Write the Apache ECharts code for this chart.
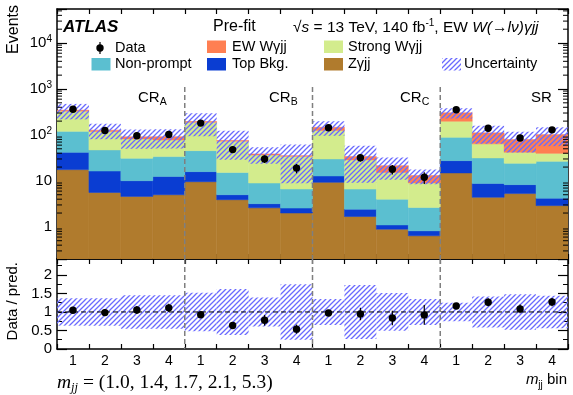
<!DOCTYPE html>
<html>
<head>
<meta charset="utf-8">
<script src="https://cdn.jsdelivr.net/npm/echarts@6/dist/echarts.min.js"></script>
<style>
  html, body { margin: 0; padding: 0; background: #fff; }
  #chart { width: 573px; height: 395px; }
</style>
</head>
<body>
<div id="chart"></div>
<script>
// bins: 4 m_jj bins in each of CR_A, CR_B, CR_C, SR
const binLabels = ['1', '2', '3', '4', '1', '2', '3', '4', '1', '2', '3', '4', '1', '2', '3', '4'];
const regionEdges = [4, 8, 12];

// pre-fit yields per bin (stacked bottom -> top)
const zgjj       = [17.6, 5.6, 4.6, 5.0, 9.6, 3.9, 2.6, 2.0, 9.3, 1.68, 0.89, 0.64, 14.9, 4.4, 5.3, 2.9];
const topBkg     = [24.3, 10.8, 5.5, 7.5, 6.3, 1.1, 0.6, 0.56, 3.5, 0.75, 0.21, 0.18, 12.7, 4.4, 3.0, 1.3];
const nonPrompt  = [78, 30.8, 20.9, 21.3, 29.7, 10.3, 5.8, 4.1, 17.2, 4.2, 2.9, 1.82, 61, 22.8, 15.8, 22.5];
const strongWgjj = [209, 72, 51, 44, 143, 58, 27.8, 27.6, 95, 22, 11.3, 6.4, 110, 32.4, 17.8, 13.1];
const ewWgjj     = [17, 8, 9, 14, 7, 2.5, 1.9, 1.2, 22, 5.2, 6.2, 4.0, 105, 47, 37.5, 62];

const dataCounts = [362, 125, 96, 102, 181, 48, 30, 19, 143, 32, 18, 12, 353, 140, 86, 129];
// relative uncertainty of the prediction
const relUnc = [0.37, 0.37, 0.45, 0.45, 0.52, 0.62, 0.39, 0.75, 0.35, 0.73, 0.51, 0.35, 0.25, 0.42, 0.48, 0.44];

const yMin = 0.2, yMax = 55000;
const rMin = 0, rMax = 2.43;

const SANS = '"Liberation Sans", Arial, Helvetica, sans-serif';
const SERIF = '"Liberation Serif", "Times New Roman", serif';

const layers = [
  { name: 'Zγjj', values: zgjj, color: '#b07b2d' },
  { name: 'Top Bkg.', values: topBkg, color: '#0a3dd2' },
  { name: 'Non-prompt', values: nonPrompt, color: '#5bbfd0' },
  { name: 'Strong Wγjj', values: strongWgjj, color: '#d3ec8d' },
  { name: 'EW Wγjj', values: ewWgjj, color: '#ff7f52' }
];

function hatchCanvas() {
  const c = document.createElement('canvas');
  c.width = 5; c.height = 5;
  const g = c.getContext('2d');
  g.strokeStyle = '#6a6aff';
  g.lineWidth = 1.3;
  g.beginPath();
  g.moveTo(-1, 6); g.lineTo(6, -1);
  g.moveTo(-1, 1); g.lineTo(1, -1);
  g.moveTo(4, 6); g.lineTo(6, 4);
  g.stroke();
  return c;
}
const hatch = { image: hatchCanvas(), repeat: 'repeat' };

// cumulative stack
const cum = binLabels.map(() => 0);
const stackData = layers.map(layer => layer.values.map((v, i) => {
  const lo = cum[i];
  cum[i] += v;
  return [i, lo === 0 ? yMin : lo, cum[i]];
}));
const totals = cum.slice();

function blockItem(params, api) {
  const i = api.value(0);
  const lo = api.coord([i, api.value(1)]);
  const hi = api.coord([i, api.value(2)]);
  const w = api.size([1, 0])[0];
  const color = api.visual('color');
  return {
    type: 'rect',
    shape: { x: lo[0] - w / 2, y: hi[1], width: w, height: lo[1] - hi[1] },
    style: { fill: color, stroke: color, lineWidth: 0.5 }
  };
}

function bandItem(params, api) {
  const i = api.value(0);
  const lo = api.coord([i, api.value(1)]);
  const hi = api.coord([i, api.value(2)]);
  const w = api.size([1, 0])[0];
  return {
    type: 'rect',
    shape: { x: lo[0] - w / 2, y: hi[1], width: w, height: lo[1] - hi[1] },
    style: { fill: hatch }
  };
}

function pointItem(params, api) {
  const i = api.value(0), v = api.value(1), e = api.value(2);
  const c = api.coord([i, v]);
  const top = api.coord([i, v + e]);
  const bot = api.coord([i, Math.max(v - e, 1e-3)]);
  return {
    type: 'group',
    children: [
      { type: 'line', shape: { x1: c[0], y1: top[1], x2: c[0], y2: bot[1] }, style: { stroke: '#000', lineWidth: 1.2 } },
      { type: 'circle', shape: { cx: c[0], cy: c[1], r: 3.7 }, style: { fill: '#000' } }
    ]
  };
}

function minorTickItem(params, api) {
  const y = api.coord([0, api.value(1)])[1];
  const cs = params.coordSys;
  const st = { stroke: '#000', lineWidth: 1 };
  return {
    type: 'group',
    children: [
      { type: 'line', shape: { x1: cs.x, y1: y, x2: cs.x + 5, y2: y }, style: st },
      { type: 'line', shape: { x1: cs.x + cs.width - 5, y1: y, x2: cs.x + cs.width, y2: y }, style: st }
    ]
  };
}

function edgeItemUpper(params, api) {
  const e = api.value(0);
  const w = api.size([1, 0])[0];
  const top = api.coord([e, 1100]);
  const bot = api.coord([e, yMin]);
  const x = top[0] - w / 2;
  return { type: 'line', shape: { x1: x, y1: top[1], x2: x, y2: bot[1] },
    style: { stroke: '#7f7f7f', lineWidth: 1.5, lineDash: [5, 3] } };
}

function edgeItemLower(params, api) {
  const e = api.value(0);
  const w = api.size([1, 0])[0];
  const bot = api.coord([e, rMin]);
  const x = bot[0] - w / 2;
  return { type: 'line', shape: { x1: x, y1: params.coordSys.y, x2: x, y2: bot[1] },
    style: { stroke: '#7f7f7f', lineWidth: 1.5, lineDash: [5, 3] } };
}

function unityItem(params, api) {
  const y = api.coord([0, api.value(1)])[1];
  const cs = params.coordSys;
  return { type: 'line', shape: { x1: cs.x, y1: y, x2: cs.x + cs.width, y2: y },
    style: { stroke: '#000', lineWidth: 1, lineDash: [5, 3] } };
}

// minor log ticks (2..9 x 10^k)
const minorTicks = [];
for (let k = -1; k <= 4; k++) {
  for (let m = 2; m <= 9; m++) {
    const v = m * Math.pow(10, k);
    if (v > yMin && v < yMax) minorTicks.push([0, v]);
  }
}

const bandUpper = totals.map((t, i) => [i, t * (1 - relUnc[i]), t * (1 + relUnc[i])]);
const bandLower = relUnc.map((u, i) => [i, 1 - u, 1 + u]);
const pointsUpper = dataCounts.map((n, i) => [i, n, Math.sqrt(n)]);
const pointsLower = dataCounts.map((n, i) => [i, n / totals[i], Math.sqrt(n) / totals[i]]);

function catAxis(gridIndex, position, showLabel) {
  return {
    type: 'category', gridIndex, position, data: binLabels, boundaryGap: true,
    axisLine: { show: true, onZero: false, lineStyle: { color: '#000', width: 1.5 } },
    axisTick: { show: true, inside: true, length: 5, interval: 0, lineStyle: { color: '#000', width: 1.2 } },
    axisLabel: { show: showLabel, interval: 0, color: '#000', fontSize: 14, fontFamily: SANS, margin: 5 },
    splitLine: { show: false }
  };
}

function logLabel(v) {
  const e = Math.log10(v);
  const r = Math.round(e);
  if (Math.abs(e - r) > 1e-6) return '';
  if (r === 0) return '{b|1}';
  if (r === 1) return '{b|10}';
  return '{b|10}{s|' + r + '}';
}

const labelRich = {
  b: { fontSize: 15, lineHeight: 18, fontFamily: SANS, color: '#000' },
  s: { fontSize: 10, lineHeight: 10, verticalAlign: 'top', fontFamily: SANS, color: '#000' }
};

function logAxis(position, showLabel) {
  return {
    type: 'log', logBase: 10, gridIndex: 0, position, min: yMin, max: yMax,
    axisLine: { show: true, onZero: false, lineStyle: { color: '#000', width: 1.5 } },
    axisTick: { show: true, inside: true, length: 10, lineStyle: { color: '#000', width: 1.2 } },
    axisLabel: { show: showLabel, formatter: logLabel, rich: labelRich, margin: 5 },
    splitLine: { show: false }
  };
}

function ratioAxis(position, showLabel) {
  return {
    type: 'value', gridIndex: 1, position, min: rMin, max: rMax, interval: 0.5,
    axisLine: { show: true, onZero: false, lineStyle: { color: '#000', width: 1.5 } },
    axisTick: { show: true, inside: true, length: 10, lineStyle: { color: '#000', width: 1.2 } },
    minorTick: { show: true, splitNumber: 2, length: 5, lineStyle: { color: '#000', width: 1 } },
    axisLabel: {
      show: showLabel, color: '#000', fontSize: 15, fontFamily: SANS, margin: 5,
      formatter: v => (Math.abs(v * 2 - Math.round(v * 2)) < 1e-6 && v <= 2) ? String(v) : ''
    },
    splitLine: { show: false }, minorSplitLine: { show: false }
  };
}

const series = [];
layers.forEach((layer, k) => {
  series.push({
    type: 'custom', name: layer.name, xAxisIndex: 0, yAxisIndex: 0,
    renderItem: blockItem, data: stackData[k], itemStyle: { color: layer.color },
    clip: true, silent: true, z: 2
  });
});
series.push(
  { type: 'custom', name: 'Uncertainty', xAxisIndex: 0, yAxisIndex: 0, renderItem: bandItem, data: bandUpper, clip: true, silent: true, z: 3 },
  { type: 'custom', name: 'edges', xAxisIndex: 0, yAxisIndex: 0, renderItem: edgeItemUpper, data: regionEdges.map(e => [e]), silent: true, z: 4 },
  { type: 'custom', name: 'Data', xAxisIndex: 0, yAxisIndex: 0, renderItem: pointItem, data: pointsUpper, silent: true, z: 5 },
  { type: 'custom', name: 'minor', xAxisIndex: 0, yAxisIndex: 0, renderItem: minorTickItem, data: minorTicks, silent: true, z: 6 },
  { type: 'custom', name: 'Uncertainty ratio', xAxisIndex: 2, yAxisIndex: 2, renderItem: bandItem, data: bandLower, clip: true, silent: true, z: 3 },
  { type: 'custom', name: 'unity', xAxisIndex: 2, yAxisIndex: 2, renderItem: unityItem, data: [[0, 1]], silent: true, z: 4 },
  { type: 'custom', name: 'edges ratio', xAxisIndex: 2, yAxisIndex: 2, renderItem: edgeItemLower, data: regionEdges.map(e => [e]), silent: true, z: 4 },
  { type: 'custom', name: 'Data / pred.', xAxisIndex: 2, yAxisIndex: 2, renderItem: pointItem, data: pointsLower, silent: true, z: 5 }
);

const txt = { fontFamily: SANS, fontSize: 14.5, fill: '#000' };
function label(x, y, text, extra) {
  return { type: 'text', x, y, z: 20, style: Object.assign({ text, verticalAlign: 'middle' }, txt, extra || {}) };
}
function swatch(x, y, fill) {
  return { type: 'rect', z: 20, shape: { x, y, width: 19, height: 12.5 }, style: { fill } };
}
const subRich = {
  n: { fontFamily: SANS, fontSize: 15, lineHeight: 20, fill: '#000' },
  s: { fontFamily: SANS, fontSize: 10.5, lineHeight: 10, verticalAlign: 'bottom', fill: '#000' }
};
function region(x, name, sub) {
  return { type: 'text', x, y: 98, z: 20,
    style: { text: '{n|' + name + '}{s|' + sub + '}', rich: subRich, verticalAlign: 'middle' } };
}

const graphic = [
  label(63, 27, 'ATLAS', { fontSize: 17, fontWeight: 'bold', fontStyle: 'italic' }),
  label(213, 27, 'Pre-fit', { fontSize: 16 }),
  { type: 'text', x: 293, y: 28, z: 20, style: {
    text: '{n|√}{i|s}{n| = 13 TeV, 140 fb}{p|-1}{n|, EW }{i|W(→lν)γjj}',
    verticalAlign: 'middle',
    rich: {
      n: { fontFamily: SANS, fontSize: 15.5, lineHeight: 20, fill: '#000' },
      i: { fontFamily: SANS, fontSize: 15.5, lineHeight: 20, fontStyle: 'italic', fill: '#000' },
      p: { fontFamily: SANS, fontSize: 10, lineHeight: 10, verticalAlign: 'top', fill: '#000' }
    } } },
  // legend
  { type: 'line', z: 20, shape: { x1: 100, y1: 42, x2: 100, y2: 54 }, style: { stroke: '#000', lineWidth: 1.2 } },
  { type: 'circle', z: 20, shape: { cx: 100, cy: 48, r: 3.7 }, style: { fill: '#000' } },
  label(115, 48, 'Data'),
  swatch(207, 40.5, layers[4].color), label(232, 47, 'EW Wγjj'),
  swatch(324, 40.5, layers[3].color), label(348, 47, 'Strong Wγjj'),
  swatch(91.5, 58, layers[2].color), label(115, 64, 'Non-prompt'),
  swatch(207, 58, layers[1].color), label(232, 64, 'Top Bkg.'),
  swatch(324, 58, layers[0].color), label(348, 64, 'Zγjj'),
  swatch(442, 58, hatch), label(464, 64, 'Uncertainty'),
  // region labels
  region(138, 'CR', 'A'),
  region(269, 'CR', 'B'),
  region(400, 'CR', 'C'),
  region(531, 'SR', ''),
  // axis titles
  { type: 'text', x: 14, y: 5, rotation: Math.PI / 2, z: 20,
    style: Object.assign({ text: 'Events', align: 'right', verticalAlign: 'middle' }, txt, { fontSize: 16 }) },
  { type: 'text', x: 13, y: 262, rotation: Math.PI / 2, z: 20,
    style: Object.assign({ text: 'Data / pred.', align: 'right', verticalAlign: 'middle' }, txt, { fontSize: 15 }) },
  { type: 'text', x: 567, y: 380, z: 20, style: {
    text: '{i|m}{s|jj}{n| bin}', align: 'right', verticalAlign: 'middle',
    rich: {
      i: { fontFamily: SANS, fontSize: 15, lineHeight: 20, fontStyle: 'italic', fill: '#000' },
      s: { fontFamily: SANS, fontSize: 10, lineHeight: 10, verticalAlign: 'bottom', fill: '#000' },
      n: { fontFamily: SANS, fontSize: 15, lineHeight: 20, fill: '#000' }
    } } },
  { type: 'text', x: 57, y: 383, z: 20, style: {
    text: '{i|m}{s|jj}{n| = (1.0, 1.4, 1.7, 2.1, 5.3)}', verticalAlign: 'middle',
    rich: {
      i: { fontFamily: SERIF, fontSize: 19.5, lineHeight: 22, fontStyle: 'italic', fill: '#000' },
      s: { fontFamily: SERIF, fontSize: 12.5, lineHeight: 12, fontStyle: 'italic', verticalAlign: 'bottom', fill: '#000' },
      n: { fontFamily: SERIF, fontSize: 19.5, lineHeight: 22, fill: '#000' }
    } } }
];

const chart = echarts.init(document.getElementById('chart'));
chart.setOption({
  animation: false,
  textStyle: { fontFamily: SANS },
  grid: [
    { left: 57, right: 5, top: 9, height: 250 },
    { left: 57, right: 5, top: 259, height: 90 }
  ],
  xAxis: [
    catAxis(0, 'bottom', false),
    catAxis(0, 'top', false),
    catAxis(1, 'bottom', true),
    catAxis(1, 'top', false)
  ],
  yAxis: [
    logAxis('left', true),
    logAxis('right', false),
    ratioAxis('left', true),
    ratioAxis('right', false)
  ],
  series,
  graphic
});
</script>
</body>
</html>
